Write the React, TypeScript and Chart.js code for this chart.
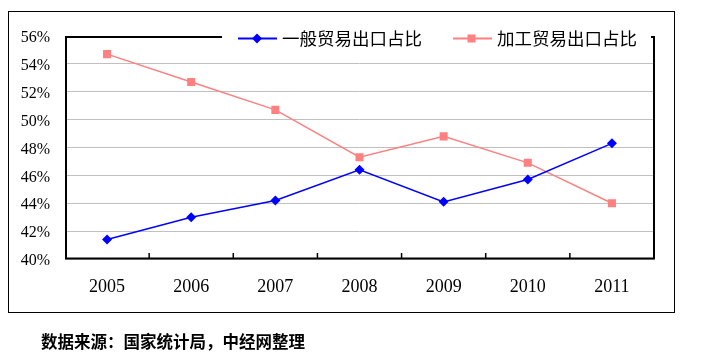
import React, { useEffect, useRef } from "react";
import { Chart, registerables } from "chart.js";

Chart.register(...registerables);

const categories = ["2005", "2006", "2007", "2008", "2009", "2010", "2011"];
const generalTrade = [41.4, 43.0, 44.2, 46.4, 44.1, 45.7, 48.3];
const processingTrade = [54.7, 52.7, 50.7, 47.3, 48.8, 46.9, 44.0];
const seriesNames = ["一般贸易出口占比", "加工贸易出口占比"];
const footerText = "数据来源：国家统计局，中经网整理";
const yMin = 40;
const yMax = 56;
const yStep = 2;

const BLUE = "#0000FF";
const PINK = "#FF8080";

const decorPlugin = {
  id: "decor",
  afterDraw(chart: any) {
    const ctx = chart.ctx as CanvasRenderingContext2D;
    const a = chart.chartArea;
    const xs = chart.scales.x;
    ctx.save();
    // outer frame
    ctx.strokeStyle = "#000";
    ctx.lineWidth = 1;
    ctx.strokeRect(8.5, 11.5, 666, 301);
    // plot frame
    ctx.lineWidth = 2;
    ctx.strokeRect(a.left + 1, a.top + 1, a.right - a.left - 1, a.bottom - a.top - 1.5);
    // inner ticks between categories
    ctx.lineWidth = 1.5;
    for (let i = 0; i < categories.length - 1; i++) {
      const x = (xs.getPixelForValue(i) + xs.getPixelForValue(i + 1)) / 2;
      ctx.beginPath();
      ctx.moveTo(x, a.bottom - 6);
      ctx.lineTo(x, a.bottom - 1);
      ctx.stroke();
    }
    // legend box
    ctx.fillStyle = "#fff";
    ctx.fillRect(222, 24, 429, 28);
    const ly = 38.5;
    const font = '17.5px "Noto Sans CJK SC", sans-serif';
    // series 1
    ctx.strokeStyle = BLUE;
    ctx.lineWidth = 2;
    ctx.beginPath();
    ctx.moveTo(238, ly);
    ctx.lineTo(277, ly);
    ctx.stroke();
    ctx.fillStyle = BLUE;
    ctx.beginPath();
    ctx.moveTo(257, ly - 5);
    ctx.lineTo(262, ly);
    ctx.lineTo(257, ly + 5);
    ctx.lineTo(252, ly);
    ctx.closePath();
    ctx.fill();
    ctx.fillStyle = "#000";
    ctx.font = font;
    ctx.textBaseline = "middle";
    ctx.textAlign = "left";
    ctx.fillText(seriesNames[0], 282, ly);
    // series 2
    ctx.strokeStyle = PINK;
    ctx.lineWidth = 2;
    ctx.beginPath();
    ctx.moveTo(453, ly);
    ctx.lineTo(492, ly);
    ctx.stroke();
    ctx.fillStyle = PINK;
    ctx.fillRect(467.5, ly - 4, 8, 8);
    ctx.fillStyle = "#000";
    ctx.fillText(seriesNames[1], 497, ly);
    // footer
    ctx.font = 'bold 16.5px "Noto Sans CJK SC", sans-serif';
    ctx.fillText(footerText, 41, 342);
    ctx.restore();
  },
};

export default function App() {
  const ref = useRef<HTMLCanvasElement>(null);
  useEffect(() => {
    if (!ref.current) return;
    const chart = new Chart(ref.current, {
      type: "line",
      data: {
        labels: categories,
        datasets: [
          {
            label: seriesNames[0],
            data: generalTrade,
            borderColor: BLUE,
            backgroundColor: BLUE,
            pointBackgroundColor: BLUE,
            pointBorderColor: BLUE,
            borderWidth: 1.5,
            pointStyle: "rectRot",
            pointRadius: 5,
            pointBorderWidth: 0,
            tension: 0,
          },
          {
            label: seriesNames[1],
            data: processingTrade,
            borderColor: PINK,
            backgroundColor: PINK,
            pointBackgroundColor: PINK,
            pointBorderColor: PINK,
            borderWidth: 1.5,
            pointStyle: "rect",
            pointRadius: 5.7,
            pointBorderWidth: 0,
            tension: 0,
          },
        ],
      },
      plugins: [decorPlugin],
      options: {
        animation: false,
        responsive: false,
        devicePixelRatio: 1,
        layout: { padding: { left: 0, top: 36, right: 61, bottom: 0 } },
        plugins: {
          legend: { display: false },
          title: { display: false },
          tooltip: { enabled: false },
        },
        scales: {
          x: {
            type: "category",
            offset: true,
            grid: { display: false, drawTicks: false },
            border: { display: false },
            ticks: {
              color: "#000",
              padding: 17,
              font: { family: '"Liberation Serif", serif', size: 18 },
              maxRotation: 0,
            },
            afterFit: (s: any) => {
              s.height = 103;
            },
          },
          y: {
            min: yMin,
            max: yMax,
            grid: { color: "#c0c0c0", lineWidth: 1, drawTicks: false },
            border: { display: false },
            ticks: {
              stepSize: yStep,
              color: "#000",
              padding: 15,
              labelOffset: 2,
              font: { family: '"Liberation Serif", serif', size: 16 },
              callback: (v: any) => v + "%",
            },
            afterFit: (s: any) => {
              s.width = 65;
            },
          },
        },
      },
    });
    return () => chart.destroy();
  }, []);
  return (
    <div style={{ position: "absolute", left: 0, top: 0, width: 715, height: 362, background: "#fff" }}>
      <canvas ref={ref} width={715} height={362} style={{ display: "block" }} />
    </div>
  );
}
